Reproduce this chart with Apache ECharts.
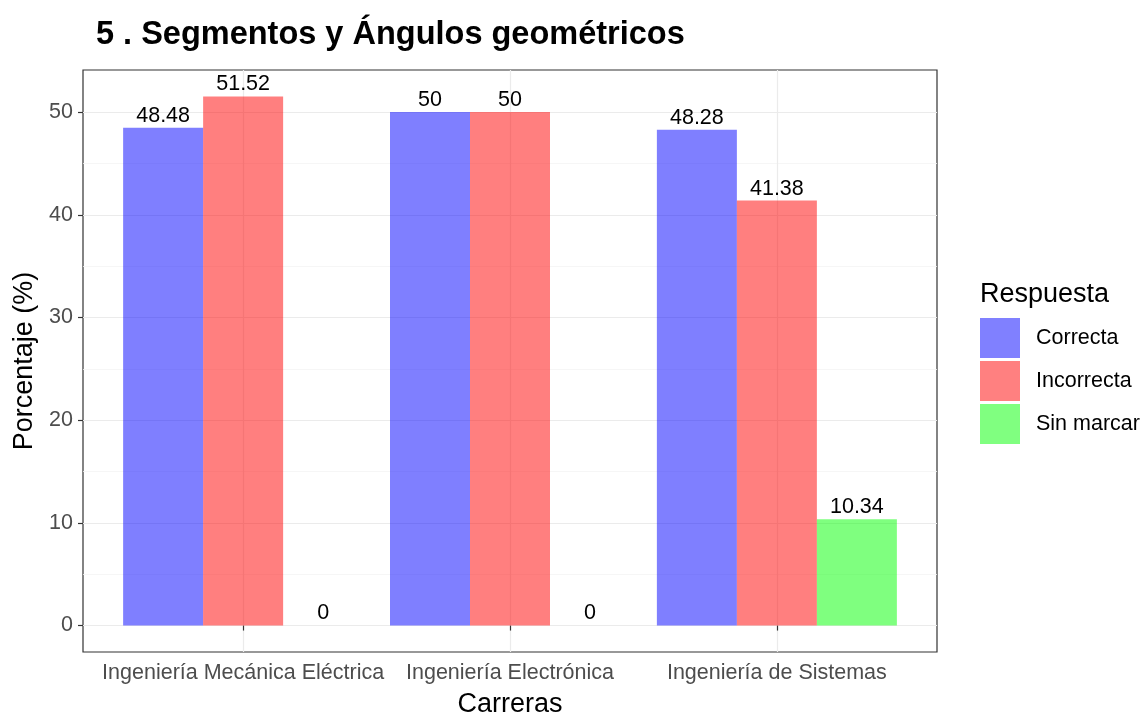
<!DOCTYPE html>
<html><head><meta charset="utf-8">
<script src="https://cdn.jsdelivr.net/npm/echarts@6/dist/echarts.min.js"></script>
<style>html,body{margin:0;padding:0;background:#fff}#c{width:1144px;height:715px}</style>
</head><body><div id="c"></div>
<script>
const categories = ['Ingeniería Mecánica Eléctrica', 'Ingeniería Electrónica', 'Ingeniería de Sistemas'];
const seriesNames = ['Correcta', 'Incorrecta', 'Sin marcar'];
const correcta = [48.48, 50, 48.28];
const incorrecta = [51.52, 50, 41.38];
const sinMarcar = [0, 0, 10.34];
const yTicks = [0, 10, 20, 30, 40, 50];
const yMinor = [5, 15, 25, 35, 45];
const catPos = [1, 2, 3];

const colors = ['rgba(0,0,255,0.5)', 'rgba(255,0,0,0.5)', 'rgba(0,255,0,0.5)'];
const legendColors = ['#8080ff', '#ff8080', '#80ff80'];
const font = 'Liberation Sans, Arial, sans-serif';
const values = [correcta, incorrecta, sinMarcar];

const chart = echarts.init(document.getElementById('c'));
const ymin = -2.576, ymax = 54.096;
chart.setOption({
  animation: false,
  textStyle: {fontFamily: font},
  title: [
    {text: '5 . Segmentos y Ángulos geométricos', left: 91, top: 14,
     textStyle: {fontSize: 32.5, fontWeight: 'bold', color: '#000', fontFamily: font}},
    {text: 'Respuesta', left: 975, top: 276,
     textStyle: {fontSize: 27, fontWeight: 'normal', color: '#000', fontFamily: font}}
  ],
  legend: {
    orient: 'vertical', left: 975, top: 313,
    itemWidth: 40, itemHeight: 40, itemGap: 3,
    icon: 'rect',
    data: seriesNames.map((n, i) => ({name: n, itemStyle: {color: legendColors[i]}})),
    textStyle: {fontSize: 21.5, color: '#000', padding: [0, 0, 0, 11], fontFamily: font}
  },
  grid: {left: 83, top: 70, width: 854, height: 582, show: true, borderColor: '#333', borderWidth: 1.2,
    containLabel: false, outerBoundsMode: 'none'},
  xAxis: {
    type: 'value', min: 0.4, max: 3.6,
    name: 'Carreras', nameLocation: 'middle', nameGap: 39,
    nameTextStyle: {fontSize: 27, color: '#000', fontFamily: font},
    axisLine: {show: false},
    axisTick: {show: true, length: 5, customValues: catPos, lineStyle: {color: '#333', width: 1.2}},
    axisLabel: {customValues: catPos, fontSize: 21.5, color: '#4d4d4d', margin: 10, fontFamily: font,
      formatter: v => categories[Math.round(v) - 1] || ''},
    splitLine: {show: true, lineStyle: {color: '#ebebeb', width: 1.2}},
    minorSplitLine: {show: false}
  },
  yAxis: [{
    type: 'value', min: ymin, max: ymax,
    name: 'Porcentaje (%)', nameLocation: 'middle', nameGap: 40, nameRotate: 90,
    nameTextStyle: {fontSize: 27, color: '#000', fontFamily: font},
    axisLine: {show: false},
    axisTick: {show: true, length: 5, customValues: yTicks, lineStyle: {color: '#333', width: 1.2}},
    axisLabel: {customValues: yTicks, fontSize: 21.5, color: '#4d4d4d', margin: 10, fontFamily: font},
    splitLine: {show: true, lineStyle: {color: '#ebebeb', width: 1.2}}
  }, {
    type: 'value', min: ymin, max: ymax, position: 'left',
    axisLine: {show: false},
    axisTick: {show: false, customValues: yMinor},
    axisLabel: {show: false, customValues: yMinor},
    splitLine: {show: true, lineStyle: {color: '#f4f4f4', width: 0.8}}
  }],
  series: seriesNames.map((n, i) => ({
    name: n, type: 'bar', barWidth: 80, barGap: '0%',
    itemStyle: {color: colors[i]},
    label: {show: true, position: 'top', distance: 1, fontSize: 21.5, color: '#000', fontFamily: font,
      formatter: p => String(p.value[1])},
    data: values[i].map((v, j) => [catPos[j], v])
  }))
});
</script></body></html>
